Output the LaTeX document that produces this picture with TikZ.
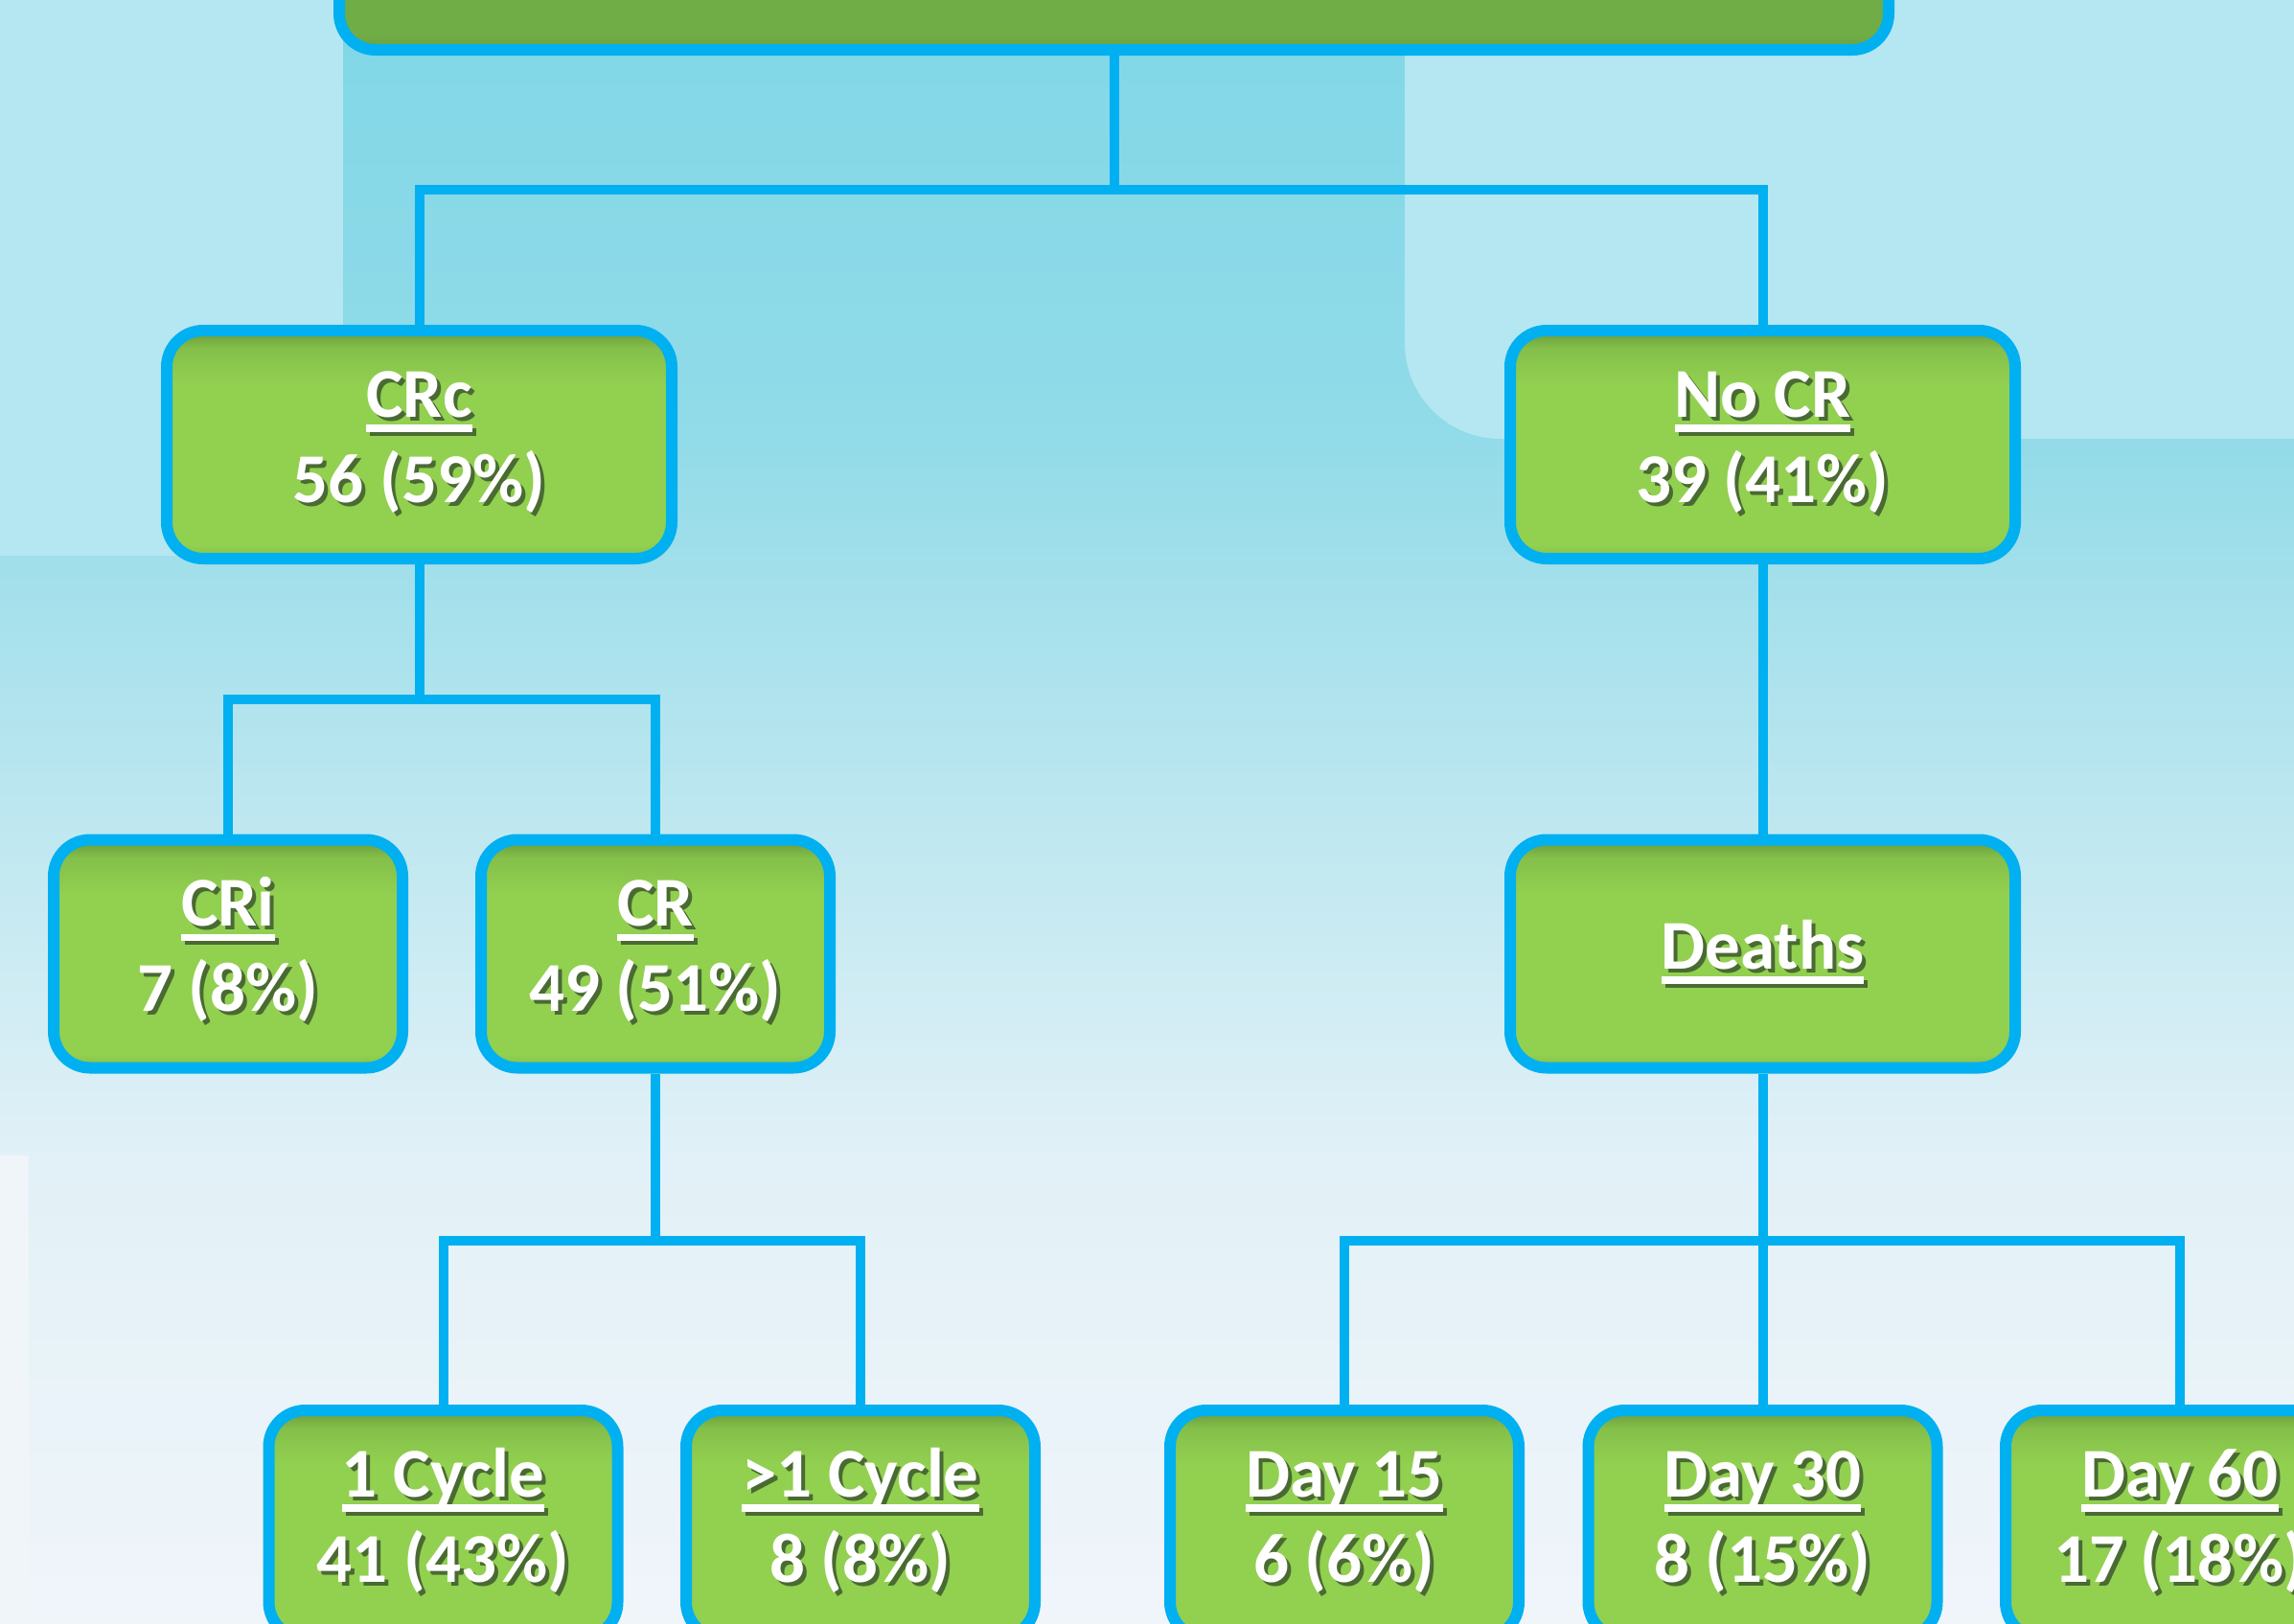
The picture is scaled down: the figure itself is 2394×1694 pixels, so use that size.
\documentclass[tikz,border=0pt]{standalone}
\usepackage{fontspec}
\setmainfont{Carlito}
\definecolor{bord}{HTML}{00B0F0}
\definecolor{gL}{HTML}{92D050}
\definecolor{gD}{HTML}{6A9A3C}
\definecolor{gM}{HTML}{84C04A}
\definecolor{gT}{HTML}{70AD47}
\definecolor{gTD}{HTML}{64A03D}
\definecolor{shd}{HTML}{4A6A33}
\definecolor{bg0}{HTML}{F0F5FA}
\definecolor{bg1}{HTML}{E2F1F7}
\definecolor{bg2}{HTML}{BDE7F0}
\definecolor{bg3}{HTML}{92DBE8}
\definecolor{bg4}{HTML}{80D7E7}
\definecolor{panel}{HTML}{B4E7F1}
\pgfdeclareverticalshading{boxshade}{100bp}{color(0bp)=(gM); color(25bp)=(gM); color(28bp)=(gL); color(63bp)=(gL); color(71bp)=(gM); color(75bp)=(gD); color(100bp)=(gD)}
\pgfdeclareverticalshading{topshade}{100bp}{color(0bp)=(gTD); color(25bp)=(gTD); color(28bp)=(gT); color(100bp)=(gT)}
\pgfdeclareverticalshading{bgshade}{100bp}{color(0bp)=(bg0); color(25bp)=(bg0); color(39bp)=(bg1); color(50bp)=(bg2); color(61.5bp)=(bg3); color(75bp)=(bg4); color(100bp)=(bg4)}
\newcommand\ulin[1]{\setbox0\hbox{#1}\rlap{\rule[-0.21em]{\wd0}{0.1em}}\box0}
\newcommand\twol[2]{\begin{tabular}{@{}c@{}}\ulin{#1}\\#2\end{tabular}}
\newcommand\shadowed[1]{\rlap{\kern2pt\raisebox{-2pt}{\color{shd}#1}}{\color{white}#1}}
\tikzset{
  box/.style={draw=bord, line width=6pt, rounded corners=19pt, shading=boxshade,
    minimum width=182pt, minimum height=119pt, inner sep=0pt,
    font=\bfseries\fontsize{36.5}{44.5}\selectfont},
  wide/.style={box, minimum width=263.5pt},
  conn/.style={draw=bord, line width=5pt}
}
\begin{document}
\begin{tikzpicture}[x=0.5pt,y=-0.5pt]
\useasboundingbox (0,0) rectangle (2394,1694);
% background
\shade[shading=bgshade] (0,0) rectangle (2394,1694);
\fill[panel] (0,0) rectangle (358,580);
\fill[panel, rounded corners=50pt] (1466,-200) rectangle (2600,458);
\fill[bg0] (0,1206) rectangle (30,1694);
% nodes
\node[wide, shading=topshade, minimum width=808.5pt, minimum height=122pt] (top) at (1162.5,-70) {};
\node[wide] (crc) at (437.5,464) {\shadowed{\twol{CRc}{56 (59\%)}}};
\node[wide] (nocr) at (1839.5,464) {\shadowed{\twol{No CR}{39 (41\%)}}};
\node[box] (cri) at (238,995.5) {\shadowed{\twol{CRi}{7 (8\%)}}};
\node[box] (cr) at (684,995.5) {\shadowed{\twol{CR}{49 (51\%)}}};
\node[wide] (deaths) at (1839.5,995.5) {\shadowed{\ulin{Deaths}}};
\node[box] (c1) at (462.5,1591) {\shadowed{\twol{1 Cycle}{41 (43\%)}}};
\node[box] (c2) at (898,1591) {\shadowed{\twol{>1 Cycle}{8 (8\%)}}};
\node[box] (d15) at (1403,1591) {\shadowed{\twol{Day 15}{6 (6\%)}}};
\node[box] (d30) at (1839.5,1591) {\shadowed{\twol{Day 30}{8 (15\%)}}};
\node[box] (d60) at (2275,1591) {\shadowed{\twol{Day 60}{17 (18\%)}}};
% connectors
\coordinate (h1) at (0,198);
\coordinate (h2) at (0,730);
\coordinate (h3) at (0,1295);
\draw[conn] (top.south) -- (top.south |- h1) -| (crc.north);
\draw[conn] (top.south |- h1) -| (nocr.north);
\draw[conn] (crc.south) -- (crc.south |- h2) -| (cri.north);
\draw[conn] (crc.south |- h2) -| (cr.north);
\draw[conn] (nocr.south) -- (deaths.north);
\draw[conn] (cr.south) -- (cr.south |- h3) -| (c1.north);
\draw[conn] (cr.south |- h3) -| (c2.north);
\draw[conn] (deaths.south) -- (deaths.south |- h3) -| (d15.north);
\draw[conn] (deaths.south |- h3) -| (d60.north);
\draw[conn] (deaths.south |- h3) -- (d30.north);
\end{tikzpicture}
\end{document}
